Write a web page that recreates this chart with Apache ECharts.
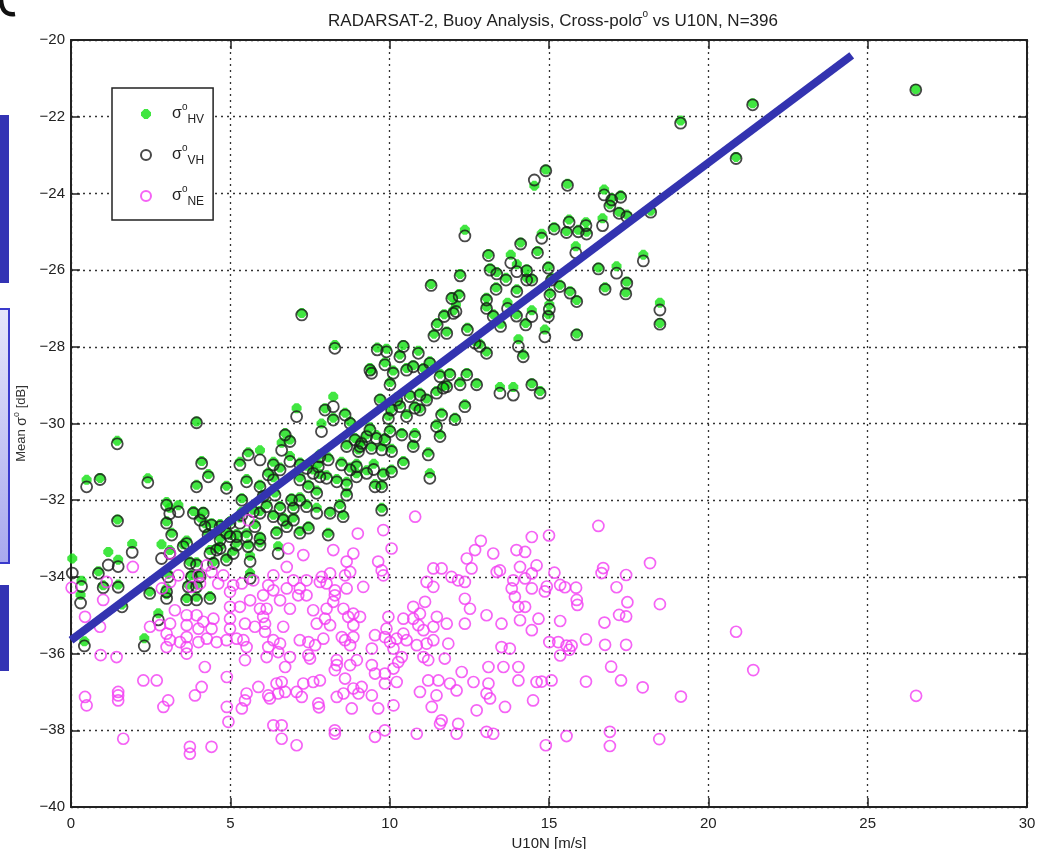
<!DOCTYPE html>
<html>
<head>
<meta charset="utf-8">
<script src="https://cdn.jsdelivr.net/npm/echarts@6/dist/echarts.min.js"></script>
<style>
  html, body { margin: 0; padding: 0; background: #fff; }
  #chart { width: 1044px; height: 849px; }
</style>
</head>
<body>
<div id="chart"></div>
<script>
// Axis ranges (U10N in m/s, sigma0 in dB)
const xRange = { min: 0, max: 30, step: 5 };
const yRange = { min: -40, max: -20, step: 2 };

// Cross-pol sigma0, HV channel: [U10N, dB]
const sigmaHV = [
  [3.94,-29.95],[1.45,-30.45],[0.91,-31.42],[0.49,-31.47],[2.41,-31.43],[1.46,-32.5],[0.04,-33.52],[1.17,-33.35],[1.48,-33.55],[0.86,-33.85],
  [1.01,-34.22],[1.48,-34.2],[1.92,-33.14],[0.3,-34.47],[0.33,-34.1],[1.6,-34.72],[2.47,-34.38],[2.74,-34.95],[2.3,-35.6],[0.42,-35.68],
  [2.84,-33.15],[3.05,-33.92],[3.0,-32.05],[3.0,-32.55],[3.1,-32.2],[3.37,-32.13],[3.16,-32.85],[3.1,-33.3],[3.0,-34.45],[3.0,-34.3],
  [3.52,-33.15],[3.63,-33.05],[3.84,-32.28],[4.15,-32.3],[4.05,-32.45],[4.2,-32.6],[4.41,-32.6],[4.1,-30.98],[4.31,-31.32],[3.94,-31.6],
  [4.88,-31.62],[5.3,-31.0],[5.56,-30.75],[5.51,-31.45],[5.93,-30.7],[6.19,-31.28],[6.35,-31.0],[6.56,-31.15],[6.87,-30.85],[7.08,-29.6],
  [6.72,-30.25],[6.87,-30.42],[6.61,-30.5],[7.86,-30.0],[7.97,-29.6],[8.23,-29.3],[8.6,-29.72],[8.23,-29.85],[8.76,-29.95],[7.76,-31.05],
  [8.02,-31.35],[8.34,-31.45],[7.6,-31.2],[7.39,-31.1],[7.18,-31.4],[7.45,-31.6],[7.71,-31.75],[7.39,-32.1],[7.71,-32.2],[8.13,-32.3],
  [8.44,-32.1],[8.54,-32.38],[8.65,-31.8],[8.49,-31.0],[8.76,-31.15],[8.96,-31.3],[8.96,-31.05],[8.65,-30.55],[8.91,-30.38],[9.12,-30.45],
  [9.02,-30.68],[9.38,-30.1],[9.58,-30.3],[9.43,-30.6],[9.75,-30.6],[9.85,-30.38],[9.96,-29.8],[9.5,-31.05],[9.8,-31.28],[10.06,-31.2],
  [9.75,-31.6],[9.75,-32.2],[6.35,-31.4],[5.93,-31.6],[6.03,-31.85],[6.4,-31.8],[6.14,-32.1],[5.93,-32.28],[6.35,-32.38],[6.56,-32.15],
  [6.66,-32.45],[6.98,-32.45],[6.77,-32.62],[6.45,-32.8],[6.98,-32.15],[7.18,-31.92],[6.92,-31.95],[7.45,-32.68],[7.18,-32.8],[8.07,-32.85],
  [6.5,-33.2],[5.93,-33.1],[5.93,-32.95],[5.77,-32.62],[5.51,-32.86],[5.36,-32.3],[5.36,-31.95],[5.72,-32.25],[5.56,-33.15],[5.62,-33.45],
  [5.09,-33.32],[5.2,-33.1],[4.88,-32.8],[4.99,-32.9],[5.2,-32.88],[4.68,-32.98],[4.68,-33.2],[4.88,-33.5],[4.99,-32.55],[4.68,-32.62],
  [4.36,-33.3],[4.47,-33.6],[4.57,-33.25],[3.73,-33.6],[3.94,-33.62],[3.78,-33.95],[4.05,-33.92],[3.68,-34.2],[3.94,-34.2],[3.63,-34.55],
  [3.94,-34.52],[4.36,-34.5],[5.62,-33.9],[5.3,-32.45],[4.3,-32.85],
  [21.39,-21.65],[19.13,-22.1],[20.87,-23.05],[14.54,-23.8],[14.9,-23.38],[15.58,-23.75],[16.73,-23.9],[16.97,-24.12],[17.25,-24.05],[16.91,-24.28],
  [17.2,-24.48],[17.44,-24.55],[18.19,-24.45],[16.68,-24.65],[16.16,-24.75],[16.18,-25.0],[15.92,-24.95],[15.63,-24.68],[15.55,-24.98],[15.16,-24.88],
  [14.77,-25.05],[14.64,-25.5],[14.11,-25.28],[15.84,-25.38],[17.96,-25.6],[12.36,-24.95],[13.1,-25.58],[13.8,-25.6],[13.99,-25.85],[14.3,-25.98],
  [13.15,-25.95],[13.36,-26.05],[12.21,-26.1],[11.3,-26.36],[11.95,-26.7],[12.18,-26.62],[12.08,-26.9],[11.71,-27.15],[11.49,-27.38],[11.39,-27.66],
  [13.65,-26.2],[13.99,-26.5],[14.3,-26.2],[14.46,-26.22],[13.34,-26.45],[13.04,-26.72],[13.04,-26.95],[13.25,-27.15],[13.48,-27.4],[13.7,-26.85],
  [13.98,-27.15],[14.27,-27.38],[14.46,-27.05],[14.98,-25.9],[15.08,-26.2],[15.34,-26.38],[15.66,-26.55],[15.87,-26.78],[15.03,-26.6],[15.01,-26.9],
  [14.98,-27.15],[14.87,-27.55],[15.87,-27.65],[16.55,-25.93],[16.76,-26.45],[17.12,-25.9],[17.44,-26.3],[17.41,-26.58],[18.48,-26.85],[18.48,-27.38],
  [10.43,-27.95],[10.32,-28.2],[10.9,-28.1],[9.85,-28.4],[10.01,-28.92],[10.11,-28.62],[11.26,-28.38],[11.58,-28.7],[11.89,-28.68],[12.21,-28.92],
  [12.42,-28.68],[12.73,-28.95],[12.36,-29.5],[12.83,-27.92],[13.04,-28.12],[12.44,-27.5],[12.68,-27.85],[14.04,-27.8],[14.19,-28.2],[13.46,-29.05],
  [13.88,-29.05],[14.46,-28.95],[14.72,-29.15],[10.74,-28.48],[11.06,-28.55],[11.79,-29.0],[11.47,-29.15],[11.16,-29.35],[10.95,-29.6],[10.32,-29.5],
  [9.7,-29.35],[26.51,-21.28],
  [7.24,-27.12],[8.28,-27.95],[9.61,-28.02],[9.38,-28.55],[7.19,-31.02],[7.81,-30.8],[8.07,-30.88],[7.81,-31.32],[8.65,-31.52],[9.28,-31.22],
  [9.54,-31.58],[9.07,-30.52],[9.28,-30.28],[10.01,-30.15],[10.38,-30.25],[10.06,-30.66],[10.43,-30.98],[10.74,-30.55],[10.79,-30.25],[11.21,-30.75],
  [11.26,-31.3],[11.58,-30.28],[11.47,-30.02],[11.63,-29.72],[10.22,-29.32],[10.64,-29.25],[10.95,-29.2],[10.79,-29.55],[10.53,-29.75],[10.06,-29.6],
  [9.43,-28.62],[10.53,-28.55],[9.9,-28.05],[11.79,-27.6],[12.0,-27.05],[12.05,-29.85],[11.68,-29.02]
];

// Cross-pol sigma0, VH channel: [U10N, dB]
const sigmaVH = [
  [3.94,-29.98],[1.45,-30.53],[0.91,-31.46],[0.49,-31.65],[2.41,-31.54],[1.46,-32.54],[0.04,-33.9],[1.17,-33.69],[1.48,-33.73],[0.86,-33.91],
  [1.01,-34.28],[1.48,-34.27],[1.92,-33.36],[0.3,-34.68],[0.33,-34.25],[1.6,-34.78],[2.47,-34.43],[2.74,-35.12],[2.3,-35.8],[0.42,-35.8],
  [2.84,-33.52],[3.05,-34.0],[3.0,-32.13],[3.0,-32.6],[3.1,-32.35],[3.37,-32.3],[3.16,-32.91],[3.1,-33.39],[3.0,-34.56],[3.0,-34.39],
  [3.52,-33.21],[3.63,-33.13],[3.84,-32.34],[4.15,-32.34],[4.05,-32.52],[4.2,-32.69],[4.41,-32.65],[4.1,-31.04],[4.31,-31.39],[3.94,-31.65],
  [4.88,-31.69],[5.3,-31.08],[5.56,-30.82],[5.51,-31.52],[5.93,-30.95],[6.19,-31.34],[6.35,-31.08],[6.56,-31.21],[6.87,-30.99],[7.08,-29.82],
  [6.72,-30.3],[6.87,-30.47],[6.61,-30.7],[7.86,-30.21],[7.97,-29.65],[8.23,-29.56],[8.6,-29.78],[8.23,-29.91],[8.76,-30.0],[7.76,-31.13],
  [8.02,-31.43],[8.34,-31.52],[7.6,-31.3],[7.39,-31.17],[7.18,-31.47],[7.45,-31.65],[7.71,-31.82],[7.39,-32.17],[7.71,-32.34],[8.13,-32.34],
  [8.44,-32.17],[8.54,-32.43],[8.65,-31.87],[8.49,-31.08],[8.76,-31.21],[8.96,-31.39],[8.96,-31.13],[8.65,-30.6],[8.91,-30.43],[9.12,-30.52],
  [9.02,-30.73],[9.38,-30.17],[9.58,-30.39],[9.43,-30.65],[9.75,-30.69],[9.85,-30.43],[9.96,-29.87],[9.5,-31.2],[9.8,-31.34],[10.06,-31.26],
  [9.75,-31.65],[9.75,-32.26],[6.35,-31.47],[5.93,-31.65],[6.03,-31.9],[6.4,-31.87],[6.14,-32.17],[5.93,-32.34],[6.35,-32.43],[6.56,-32.21],
  [6.66,-32.52],[6.98,-32.52],[6.77,-32.69],[6.45,-32.86],[6.98,-32.21],[7.18,-32.0],[6.92,-32.0],[7.45,-32.73],[7.18,-32.86],[8.07,-32.91],
  [6.5,-33.39],[5.93,-33.17],[5.93,-33.0],[5.77,-32.69],[5.51,-32.95],[5.36,-32.39],[5.36,-32.0],[5.72,-32.3],[5.56,-33.21],[5.62,-33.6],
  [5.09,-33.39],[5.2,-33.17],[4.88,-32.86],[4.99,-32.95],[5.2,-32.95],[4.68,-33.04],[4.68,-33.26],[4.88,-33.56],[4.99,-32.6],[4.68,-32.69],
  [4.36,-33.39],[4.47,-33.65],[4.57,-33.3],[3.73,-33.65],[3.94,-33.69],[3.78,-34.0],[4.05,-34.0],[3.68,-34.26],[3.94,-34.26],[3.63,-34.6],
  [3.94,-34.6],[4.36,-34.56],[5.62,-34.04],[5.3,-32.6],[4.3,-32.9],
  [21.39,-21.69],[19.13,-22.17],[20.87,-23.09],[14.54,-23.65],[14.9,-23.41],[15.58,-23.79],[16.73,-24.04],[16.97,-24.17],[17.25,-24.1],[16.91,-24.33],
  [17.2,-24.52],[17.44,-24.61],[18.19,-24.49],[16.68,-24.84],[16.16,-24.84],[16.18,-25.06],[15.92,-25.0],[15.63,-24.75],[15.55,-25.02],[15.16,-24.93],
  [14.77,-25.17],[14.64,-25.55],[14.11,-25.32],[15.84,-25.55],[17.96,-25.76],[12.36,-25.11],[13.1,-25.62],[13.8,-25.81],[13.99,-26.04],[14.3,-26.02],
  [13.15,-26.0],[13.36,-26.1],[12.21,-26.15],[11.3,-26.4],[11.95,-26.74],[12.18,-26.68],[12.08,-27.08],[11.71,-27.21],[11.49,-27.43],[11.39,-27.72],
  [13.65,-26.26],[13.99,-26.56],[14.3,-26.26],[14.46,-26.26],[13.34,-26.5],[13.04,-26.78],[13.04,-27.0],[13.25,-27.21],[13.48,-27.47],[13.7,-27.0],
  [13.98,-27.2],[14.27,-27.43],[14.46,-27.21],[14.98,-25.95],[15.08,-26.26],[15.34,-26.43],[15.66,-26.6],[15.87,-26.82],[15.03,-26.65],[15.01,-27.02],
  [14.98,-27.21],[14.87,-27.74],[15.87,-27.69],[16.55,-25.97],[16.76,-26.5],[17.12,-26.08],[17.44,-26.34],[17.41,-26.62],[18.48,-27.04],[18.48,-27.41],
  [10.43,-27.99],[10.32,-28.26],[10.9,-28.17],[9.85,-28.47],[10.01,-28.99],[10.11,-28.69],[11.26,-28.43],[11.58,-28.78],[11.89,-28.73],[12.21,-28.99],
  [12.42,-28.73],[12.73,-28.99],[12.36,-29.56],[12.83,-27.99],[13.04,-28.17],[12.44,-27.56],[12.68,-27.91],[14.04,-27.99],[14.19,-28.26],[13.46,-29.21],
  [13.88,-29.26],[14.46,-28.99],[14.72,-29.21],[10.74,-28.52],[11.06,-28.6],[11.79,-29.04],[11.47,-29.21],[11.16,-29.39],[10.95,-29.65],[10.32,-29.56],
  [9.7,-29.39],[26.51,-21.3],
  [7.24,-27.17],[8.28,-28.04],[9.61,-28.08],[9.38,-28.61],[7.19,-31.08],[7.81,-30.87],[8.07,-30.95],[7.81,-31.39],[8.65,-31.6],[9.28,-31.3],
  [9.54,-31.65],[9.07,-30.6],[9.28,-30.34],[10.01,-30.21],[10.38,-30.3],[10.06,-30.73],[10.43,-31.04],[10.74,-30.6],[10.79,-30.34],[11.21,-30.82],
  [11.26,-31.43],[11.58,-30.34],[11.47,-30.08],[11.63,-29.78],[10.22,-29.39],[10.64,-29.3],[10.95,-29.26],[10.79,-29.6],[10.53,-29.82],[10.06,-29.65],
  [9.43,-28.69],[10.53,-28.61],[9.9,-28.13],[11.79,-27.65],[12.0,-27.13],[12.05,-29.9],[11.68,-29.08]
];

// Noise-equivalent sigma0: [U10N, dB]
const sigmaNE = [
  [10.8,-32.43],[9.0,-32.87],[9.8,-32.78],[12.86,-33.06],[14.46,-32.96],[10.06,-33.26],[13.25,-33.39],[13.98,-33.3],[14.25,-33.35],[12.68,-33.3],
  [12.42,-33.52],[5.57,-32.52],[8.23,-33.3],[8.86,-33.39],[8.65,-33.6],[7.29,-33.43],[6.82,-33.26],[6.77,-33.74],[9.64,-33.6],[9.75,-33.83],
  [9.8,-33.96],[11.37,-33.78],[11.63,-33.78],[11.94,-34.0],[12.15,-34.09],[12.36,-34.13],[12.57,-33.78],[11.16,-34.13],[11.37,-34.26],[13.36,-33.87],
  [13.46,-33.83],[13.88,-34.09],[14.09,-33.74],[14.25,-34.04],[14.46,-33.91],[14.61,-33.7],[13.83,-34.3],[13.93,-34.52],[14.46,-34.3],[14.04,-34.78],
  [14.25,-34.78],[14.09,-35.13],[14.46,-35.39],[14.67,-35.09],[13.04,-35.0],[13.51,-35.22],[12.36,-34.57],[12.52,-34.83],[12.36,-35.22],[11.79,-35.22],
  [11.48,-35.04],[11.11,-34.65],[10.74,-34.78],[10.95,-34.96],[10.74,-35.09],[10.43,-35.09],[10.9,-35.26],[11.06,-35.39],[11.37,-35.3],[11.84,-35.74],
  [11.37,-35.65],[11.16,-35.74],[10.85,-35.78],[10.53,-35.65],[10.43,-35.48],[10.22,-35.61],[10.01,-35.7],[9.85,-35.57],[9.54,-35.52],[9.44,-35.87],
  [9.96,-35.04],[9.9,-35.35],[10.12,-35.87],[10.38,-36.09],[11.06,-36.09],[11.21,-36.17],[11.73,-36.13],[12.26,-36.48],[12.63,-36.74],[13.1,-36.35],
  [13.51,-35.83],[13.77,-35.87],[13.57,-36.35],[14.04,-36.35],[14.04,-36.7],[14.61,-36.74],[14.5,-37.22],[13.62,-37.39],[13.15,-37.17],[13.04,-37.04],
  [13.1,-36.78],[12.73,-37.48],[12.1,-36.96],[11.89,-36.78],[11.53,-36.7],[11.21,-36.7],[10.95,-37.0],[11.47,-37.09],[11.32,-37.39],[11.63,-37.74],
  [11.58,-37.83],[12.15,-37.83],[12.1,-38.09],[13.04,-38.04],[13.25,-38.09],[10.85,-38.09],[9.85,-38.0],[9.54,-38.17],[10.12,-37.35],[9.85,-36.78],
  [10.22,-36.74],[9.85,-36.52],[10.12,-36.39],[9.44,-36.3],[9.54,-36.52],[9.44,-37.09],[9.64,-37.43],[9.12,-36.87],[8.86,-36.91],[9.02,-37.04],
  [8.81,-37.43],[8.55,-37.04],[8.34,-37.13],[8.6,-36.65],[8.34,-36.3],[8.34,-36.17],[8.28,-36.43],[8.76,-36.3],[8.76,-35.78],[8.6,-35.65],
  [8.5,-35.57],[8.86,-35.57],[8.86,-35.26],[9.07,-35.04],[8.7,-35.04],[8.55,-34.83],[8.86,-34.96],[8.23,-34.65],[7.97,-35.09],[8.13,-35.26],
  [7.71,-35.22],[7.92,-35.61],[7.6,-34.87],[8.02,-34.83],[7.87,-34.0],[8.02,-34.17],[8.28,-34.35],[8.28,-34.48],[7.81,-34.13],[8.13,-33.91],
  [8.65,-34.3],[9.17,-34.26],[8.6,-33.96],[8.76,-33.87],[7.39,-34.09],[7.39,-34.48],[7.13,-34.48],[7.18,-34.3],[6.98,-34.09],[6.77,-34.3],
  [6.87,-34.83],[6.56,-34.61],[6.35,-34.35],[6.19,-34.22],[6.35,-33.96],[6.03,-34.48],[5.93,-34.83],[6.14,-34.83],[6.03,-35.04],[6.09,-35.22],
  [5.77,-35.3],[5.62,-34.61],[5.3,-34.78],[4.99,-34.78],[5.36,-34.17],[5.09,-34.22],[4.99,-34.39],[5.72,-34.09],[4.62,-34.17],[4.78,-33.96],
  [4.41,-33.87],[4.26,-33.7],[4.05,-34.17],[4.0,-33.96],[3.79,-34.26],[3.37,-33.96],[3.11,-34.13],[2.85,-34.3],[3.26,-34.87],[3.63,-35.0],
  [3.94,-35.0],[4.15,-35.17],[3.63,-35.26],[4.0,-35.35],[4.41,-35.35],[4.47,-35.09],[4.99,-35.09],[4.99,-35.35],[4.26,-35.61],[4.57,-35.7],
  [4.88,-35.65],[5.2,-35.61],[5.41,-35.65],[5.51,-35.83],[5.46,-36.17],[4.0,-35.7],[3.63,-35.83],[3.42,-35.7],[3.11,-35.65],[3.0,-35.83],
  [3.0,-35.48],[3.11,-35.22],[2.79,-35.26],[2.48,-35.3],[3.63,-36.0],[3.63,-35.57],[4.2,-36.35],[4.89,-36.61],[4.1,-36.87],[3.89,-37.09],
  [3.05,-37.22],[2.9,-37.39],[2.69,-36.7],[2.27,-36.7],[1.48,-37.0],[1.48,-37.09],[1.48,-37.22],[0.44,-37.13],[0.49,-37.35],[1.64,-38.22],
  [3.73,-38.43],[3.73,-38.61],[4.41,-38.43],[4.89,-37.39],[4.94,-37.78],[5.36,-37.43],[5.46,-37.22],[5.51,-37.04],[5.88,-36.87],[6.19,-37.09],
  [6.24,-37.17],[6.45,-36.78],[6.61,-36.74],[6.72,-37.0],[6.5,-37.04],[7.08,-37.0],[7.24,-37.13],[7.29,-36.78],[7.6,-36.74],[7.81,-36.7],
  [7.76,-37.3],[7.78,-37.4],[6.35,-37.87],[6.61,-37.87],[6.61,-38.22],[7.08,-38.39],[8.28,-38.09],[8.28,-38.0],[6.14,-36.09],[6.19,-35.83],
  [6.35,-35.65],[6.56,-35.74],[6.5,-35.96],[6.72,-36.35],[7.18,-35.65],[7.45,-35.7],[7.45,-36.04],[7.66,-35.78],[7.5,-36.13],[6.87,-36.09],
  [6.66,-35.3],[6.09,-35.43],[5.46,-35.22],[8.97,-36.17],[10.27,-36.22],
  [1.94,-33.74],[1.12,-34.13],[1.01,-34.6],[0.44,-35.04],[0.02,-34.28],[0.91,-35.3],[0.93,-36.04],[1.43,-36.09],[3.11,-33.39],
  [15.0,-32.92],[16.55,-32.67],[18.17,-33.64],[15.17,-33.89],[16.7,-33.77],[16.65,-33.9],[17.42,-33.95],[15.35,-34.21],[15.5,-34.27],[15.85,-34.28],
  [14.93,-34.25],[14.87,-34.38],[17.12,-34.27],[15.87,-34.6],[15.89,-34.73],[17.46,-34.66],[18.48,-34.71],[17.2,-34.99],[17.42,-35.03],[16.74,-35.19],
  [15.35,-35.15],[20.87,-35.43],[16.16,-35.63],[15.01,-35.7],[15.29,-35.7],[15.55,-35.79],[15.71,-35.79],[15.64,-35.9],[15.35,-36.05],[16.76,-35.77],
  [17.42,-35.77],[16.95,-36.34],[16.16,-36.73],[17.26,-36.7],[17.94,-36.88],[19.14,-37.12],[21.41,-36.43],[26.52,-37.1],[15.08,-36.7],[14.77,-36.73],
  [15.55,-38.15],[16.91,-38.04],[16.91,-38.41],[18.46,-38.23],[14.9,-38.39]
];

// Linear trend drawn over the cross-pol points: end points [U10N, dB]
const trendLine = [[0, -35.65], [24.5, -20.4]];

const FONT = '"Liberation Sans", Arial, Helvetica, sans-serif';
const INK = '#222';

// MATLAB-style '*' marker: union of a plus and a cross (all sub-paths wound the same way)
const ASTERISK = 'path://M0 3 L10 3 L10 7 L0 7 Z M3 0 L7 0 L7 10 L3 10 Z ' +
  'M2.9 0.4 L9.6 7.1 L7.1 9.6 L0.4 2.9 Z M7.1 0.4 L9.6 2.9 L2.9 9.6 L0.4 7.1 Z';

const minusSign = v => String(v).replace('-', '\u2212');

function valueAxis(range, position, primary) {
  return {
    type: 'value',
    position: position,
    min: range.min, max: range.max, interval: range.step,
    axisLine: { show: true, onZero: false, lineStyle: { color: INK, width: 2 } },
    axisTick: { show: true, inside: true, length: 9, lineStyle: { color: INK, width: 1.5 } },
    axisLabel: { show: primary, color: INK, fontFamily: FONT, fontSize: 15, formatter: minusSign },
    splitLine: { show: primary, lineStyle: { color: '#333', width: 1.3, type: [2, 4] } }
  };
}

const chart = echarts.init(document.getElementById('chart'), null, { renderer: 'canvas' });

const xBottom = valueAxis(xRange, 'bottom', true);
xBottom.axisLabel.margin = 9;
xBottom.name = 'U10N [m/s]';
xBottom.nameLocation = 'middle';
xBottom.nameGap = 24;
xBottom.nameTextStyle = { color: INK, fontFamily: FONT, fontSize: 15 };

const yLeft = valueAxis(yRange, 'left', true);
yLeft.axisLabel.margin = 6;
yLeft.name = '{a|Mean }{s|σ}{o|o}{a| [dB]}';
yLeft.nameLocation = 'middle';
yLeft.nameGap = 38;
yLeft.nameTextStyle = {
  color: '#333', fontFamily: FONT,
  rich: {
    a: { fontSize: 13, fontFamily: FONT, color: '#333', lineHeight: 20, verticalAlign: 'middle' },
    s: { fontSize: 14, fontFamily: FONT, color: '#333', lineHeight: 20, verticalAlign: 'middle' },
    o: { fontSize: 9, fontFamily: FONT, color: '#333', lineHeight: 20, verticalAlign: 'top' }
  }
};

const legendRich = {
  s: { fontSize: 16, fontFamily: FONT, color: INK, lineHeight: 24, verticalAlign: 'middle' },
  o: { fontSize: 10, fontFamily: FONT, color: INK, lineHeight: 24, verticalAlign: 'top' },
  b: { fontSize: 12, fontFamily: FONT, color: INK, lineHeight: 24, verticalAlign: 'bottom' }
};

chart.setOption({
  backgroundColor: '#fff',
  animation: false,
  title: {
    text: '{t|RADARSAT-2, Buoy Analysis, Cross-pol}{s|σ}{o|o}{t| vs U10N, N=396}',
    left: 548, top: 4, textAlign: 'center',
    textStyle: {
      fontWeight: 'normal',
      rich: {
        t: { fontSize: 17, fontWeight: 'normal', fontFamily: FONT, color: INK, lineHeight: 24, verticalAlign: 'middle' },
        s: { fontSize: 17, fontWeight: 'normal', fontFamily: FONT, color: INK, lineHeight: 24, verticalAlign: 'middle' },
        o: { fontSize: 10, fontWeight: 'normal', fontFamily: FONT, color: INK, lineHeight: 24, verticalAlign: 'top' }
      }
    }
  },
  grid: { left: 71, right: 17, top: 40, bottom: 42, containLabel: false, outerBoundsMode: 'none' },
  xAxis: [xBottom, valueAxis(xRange, 'top', false)],
  yAxis: [yLeft, valueAxis(yRange, 'right', false)],
  legend: {
    data: ['HV', 'VH', 'NE'],
    orient: 'vertical',
    left: 112, top: 88,
    padding: [14, 9, 12, 28],
    itemWidth: 42, itemHeight: 10, itemGap: 17,
    borderColor: INK, borderWidth: 1.5, backgroundColor: '#fff',
    selectedMode: false,
    formatter: name => '{s|σ}{o|o}{b|' + name + '}',
    textStyle: { rich: legendRich }
  },
  graphic: [
    { type: 'rect', shape: { x: 0, y: 115, width: 9, height: 168 }, style: { fill: '#3434b4' } },
    { type: 'rect', shape: { x: -2, y: 309, width: 11, height: 254 },
      style: {
        fill: new echarts.graphic.LinearGradient(0, 0, 0, 1, [
          { offset: 0, color: '#e6e6fb' }, { offset: 1, color: '#a8a8ee' }
        ]),
        stroke: '#3a3acc', lineWidth: 2
      } },
    { type: 'rect', shape: { x: 0, y: 585, width: 9, height: 86 }, style: { fill: '#3434b4' } },
    { type: 'bezierCurve', shape: { x1: 1, y1: 0, cpx1: 2, cpy1: 16, x2: 15, y2: 14 },
      style: { stroke: '#111', lineWidth: 4.5, fill: null } }
  ],
  series: [
    {
      name: 'HV', type: 'scatter', data: sigmaHV,
      symbol: ASTERISK, symbolSize: 10,
      itemStyle: { color: '#12e012' },
      emphasis: { disabled: true }, z: 2
    },
    {
      name: 'VH', type: 'scatter', data: sigmaVH,
      symbol: 'circle', symbolSize: 11,
      itemStyle: { color: 'rgba(0,0,0,0)', borderColor: '#1a1a1a', borderWidth: 1.8 },
      emphasis: { disabled: true }, z: 3
    },
    {
      name: 'NE', type: 'scatter', data: sigmaNE,
      symbol: 'circle', symbolSize: 11,
      itemStyle: { color: 'rgba(0,0,0,0)', borderColor: '#f23cf2', borderWidth: 1.7 },
      emphasis: { disabled: true }, z: 3
    },
    {
      name: 'trend', type: 'line', data: trendLine,
      symbol: 'none', clip: false,
      lineStyle: { color: '#3333b0', width: 8, cap: 'butt' },
      emphasis: { disabled: true }, z: 6
    }
  ]
});
</script>
</body>
</html>
